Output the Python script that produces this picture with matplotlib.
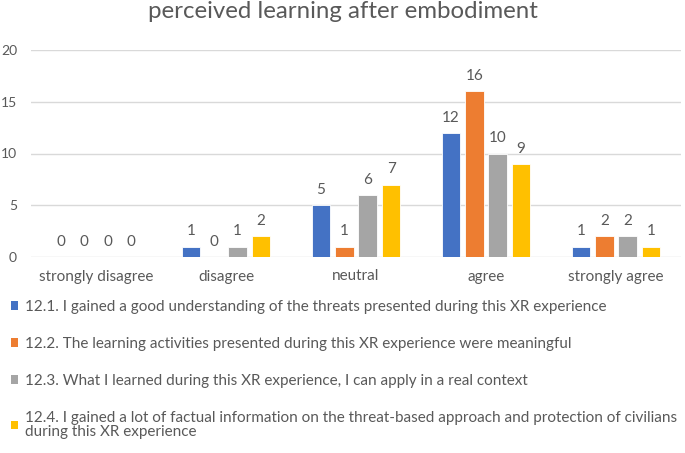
import numpy as np
import matplotlib.pyplot as plt
from matplotlib.patches import Patch

# ---- data ----
categories = ["strongly disagree", "disagree", "neutral", "agree", "strongly agree"]
series_labels = [
    "12.1. I gained a good understanding of the threats presented during this XR experience",
    "12.2. The learning activities presented during this XR experience were meaningful",
    "12.3. What I learned during this XR experience, I can apply in a real context",
    "12.4. I gained a lot of factual information on the threat-based approach and protection of civilians\nduring this XR experience",
]
q1 = [0, 1, 5, 12, 1]
q2 = [0, 0, 1, 16, 2]
q3 = [0, 1, 6, 10, 2]
q4 = [0, 2, 7, 9, 1]
colors = ["#4472C4", "#ED7D31", "#A5A5A5", "#FFC000"]

plt.rcParams["font.family"] = ["Lato", "DejaVu Sans"]
txt = "#595959"

fig = plt.figure(figsize=(6.85, 4.53), dpi=100)
ax = fig.add_axes([31 / 685, 1 - 257 / 453, 650 / 685, 207 / 453])

x = np.arange(len(categories))
width = 0.143
step = 0.18
for i, (vals, col) in enumerate(zip([q1, q2, q3, q4], colors)):
    pos = x + (i - 1.5) * step
    ax.bar(pos, vals, width, color=col, edgecolor="white", linewidth=0.6, zorder=3)
    for p, v in zip(pos, vals):
        ax.text(p, v + 0.8, str(v), ha="center", va="bottom", fontsize=11, color=txt)

ax.set_xlim(-0.5, len(categories) - 0.5)
ax.set_ylim(0, 20)
ax.set_yticks([0, 5, 10, 15, 20])
ax.yaxis.grid(True, color="#D9D9D9", linewidth=1)
ax.set_axisbelow(True)
for s in ax.spines.values():
    s.set_visible(False)
ax.tick_params(axis="both", length=0, labelsize=11, labelcolor=txt)
ax.tick_params(axis="y", pad=10, labelsize=10)
ax.tick_params(axis="x", pad=9)
ax.set_xticks(x)
ax.set_xticklabels(categories)

fig.suptitle("perceived learning after embodiment", y=0.997, fontsize=17.3, color=txt)

handles = [Patch(facecolor=c, edgecolor="none") for c in colors]
leg = fig.legend(handles, series_labels, loc="upper left", bbox_to_anchor=(11 / 685, 1 - 300 / 453),
                 frameon=False, fontsize=11, labelcolor=txt, handlelength=0.46, handleheight=0.46,
                 handletextpad=0.46, labelspacing=1.5, borderaxespad=0, borderpad=0)
leg.get_texts()[3].set_linespacing(1.05)

fig.savefig("out.png", dpi=100)
